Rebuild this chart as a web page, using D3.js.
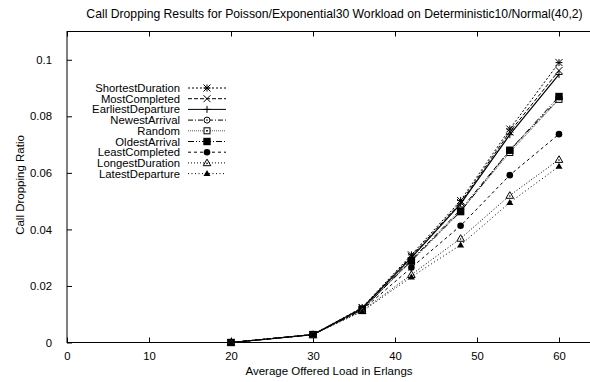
<!DOCTYPE html>
<html><head><meta charset="utf-8">
<script src="https://cdn.jsdelivr.net/npm/d3@7"></script>
<style>body{margin:0;background:#fff}svg{display:block}text{font-family:"Liberation Sans",Arial,sans-serif;fill:#000}</style>
</head><body><svg id="c" width="590" height="382"></svg>
<script>
const title = "Call Dropping Results for Poisson/Exponential30 Workload on Deterministic10/Normal(40,2)";
const xLabel = "Average Offered Load in Erlangs";
const yLabel = "Call Dropping Ratio";
const loads = [20, 30, 36, 42, 48, 54, 60];
const xTicks = [0, 10, 20, 30, 40, 50, 60];
const yTicks = [0, 0.02, 0.04, 0.06, 0.08, 0.1];
const seriesNames = ["ShortestDuration","MostCompleted","EarliestDeparture","NewestArrival","Random","OldestArrival","LeastCompleted","LongestDuration","LatestDeparture"];
const shortestDuration = [0, 0.0028, 0.0124, 0.0310, 0.0502, 0.0755, 0.0990];
const mostCompleted    = [0, 0.0028, 0.0122, 0.0305, 0.0495, 0.0745, 0.0962];
const earliestDeparture= [0, 0.0028, 0.0121, 0.0300, 0.0490, 0.0735, 0.0948];
const newestArrival    = [0, 0.0028, 0.0118, 0.0292, 0.0470, 0.0680, 0.0862];
const randomPolicy     = [0, 0.0028, 0.0117, 0.0290, 0.0465, 0.0672, 0.0860];
const oldestArrival    = [0, 0.0028, 0.0117, 0.0288, 0.0463, 0.0680, 0.0870];
const leastCompleted   = [0, 0.0028, 0.0115, 0.0265, 0.0413, 0.0592, 0.0737];
const longestDuration  = [0, 0.0028, 0.0112, 0.0240, 0.0368, 0.0520, 0.0647];
const latestDeparture  = [0, 0.0028, 0.0110, 0.0232, 0.0345, 0.0495, 0.0623];
const seriesValues = [shortestDuration, mostCompleted, earliestDeparture, newestArrival, randomPolicy, oldestArrival, leastCompleted, longestDuration, latestDeparture];

const styles = [
  {dash:"2,2", marker:"star"},
  {dash:"4,2", marker:"x"},
  {dash:null, marker:"plus"},
  {dash:"5,2,1,2", marker:"circleOpen"},
  {dash:"1,1", marker:"squareOpen", color:"#555"},
  {dash:"6,2,1,2,1,2", marker:"squareFilled"},
  {dash:"3,3", marker:"circleFilled"},
  {dash:"1,2", marker:"triOpen"},
  {dash:"1,2.5", marker:"triFilled"}
];

const svg = d3.select("#c");
const L = 67, T = 31.5, B = 342.5;
const x = d3.scaleLinear().domain([0, 70]).range([L, L + 70 * 8.2]);
const y = d3.scaleLinear().domain([0, 0.11]).range([B, T]);
const R = x(70);

const g = svg.append("g");
g.append("rect").attr("x", L).attr("y", T).attr("width", R - L).attr("height", B - T)
  .attr("fill", "none").attr("stroke", "#000").attr("stroke-width", 1);

const fmt = d => (d === 0 ? "0" : String(+d.toFixed(3)));
const xAxisB = d3.axisBottom(x).tickValues(xTicks).tickSize(-5).tickPadding(9).tickFormat(d3.format("d"));
const xAxisT = d3.axisTop(x).tickValues(xTicks).tickSize(-5).tickFormat("");
const yAxisL = d3.axisLeft(y).tickValues(yTicks).tickSize(-5).tickPadding(15).tickFormat(fmt);
const yAxisR = d3.axisRight(y).tickValues(yTicks).tickSize(-5).tickFormat("");
function styleAxis(sel) {
  sel.select(".domain").remove();
  sel.selectAll("line").attr("stroke", "#000");
  sel.selectAll("text").attr("font-size", 11.3).attr("font-family", "Liberation Sans, Arial, sans-serif");
}
g.append("g").attr("transform", `translate(0,${B})`).call(xAxisB).call(styleAxis);
g.append("g").attr("transform", `translate(0,${T})`).call(xAxisT).call(styleAxis);
g.append("g").attr("transform", `translate(${L},0)`).call(yAxisL).call(styleAxis);
g.append("g").attr("transform", `translate(${R},0)`).call(yAxisR).call(styleAxis);

svg.append("text").attr("x", 334.5).attr("y", 18).attr("text-anchor", "middle").attr("font-size", 12.2).text(title);
svg.append("text").attr("x", 329).attr("y", 375).attr("text-anchor", "middle").attr("font-size", 11.5).text(xLabel);
svg.append("text").attr("transform", "translate(24,185) rotate(-90)").attr("text-anchor", "middle").attr("font-size", 11.5).text(yLabel);

function drawMarker(sel, type, cx, cy, col) {
  const s = 3.5;
  const gm = sel.append("g").attr("transform", `translate(${cx},${cy})`);
  const ln = (x1, y1, x2, y2) => gm.append("line").attr("x1", x1).attr("y1", y1).attr("x2", x2).attr("y2", y2).attr("stroke", col).attr("stroke-width", 1);
  switch (type) {
    case "star": ln(-s,0,s,0); ln(0,-s,0,s); ln(-s,-s,s,s); ln(-s,s,s,-s); break;
    case "x": ln(-s,-s,s,s); ln(-s,s,s,-s); break;
    case "plus": ln(-s,0,s,0); ln(0,-s,0,s); break;
    case "circleOpen": gm.append("circle").attr("r", 3).attr("fill", "#fff").attr("stroke", col); gm.append("circle").attr("r", 0.8).attr("fill", col); break;
    case "circleFilled": gm.append("circle").attr("r", 3.3).attr("fill", col); break;
    case "squareOpen": gm.append("rect").attr("x", -3).attr("y", -3).attr("width", 6).attr("height", 6).attr("fill", "#fff").attr("stroke", "#000"); gm.append("rect").attr("x",-0.8).attr("y",-0.8).attr("width",1.6).attr("height",1.6).attr("fill","#000"); break;
    case "squareFilled": gm.append("rect").attr("x", -3.7).attr("y", -3.7).attr("width", 7.4).attr("height", 7.4).attr("fill", "#000"); break;
    case "triOpen": gm.append("path").attr("d", "M0,-3.8L3.8,2.8L-3.8,2.8Z").attr("fill", "#fff").attr("stroke", "#000"); gm.append("circle").attr("r",0.8).attr("cy",0.5).attr("fill","#000"); break;
    case "triFilled": gm.append("path").attr("d", "M0,-3.5L3.5,2.5L-3.5,2.5Z").attr("fill", "#000"); break;
  }
}

const line = d3.line().x((d, i) => x(loads[i])).y(d => y(d));
const plot = svg.append("g");
seriesValues.forEach((vals, k) => {
  const st = styles[k];
  const col = st.color || "#000";
  plot.append("path").datum(vals).attr("d", line).attr("fill", "none")
    .attr("stroke", col).attr("stroke-width", k === 2 ? 1.2 : 1)
    .attr("stroke-dasharray", st.dash);
  vals.forEach((v, i) => drawMarker(plot, st.marker, x(loads[i]), y(v), "#000"));
});

const leg = svg.append("g");
seriesNames.forEach((name, k) => {
  const yy = 88 + k * 10.7;
  const st = styles[k];
  leg.append("text").attr("x", 180).attr("y", yy + 4).attr("text-anchor", "end").attr("font-size", 11.3).text(name);
  leg.append("line").attr("x1", 188).attr("x2", 226).attr("y1", yy).attr("y2", yy)
    .attr("stroke", st.color || "#000").attr("stroke-width", 1).attr("stroke-dasharray", st.dash);
  drawMarker(leg, st.marker, 207, yy, "#000");
});
</script></body></html>
